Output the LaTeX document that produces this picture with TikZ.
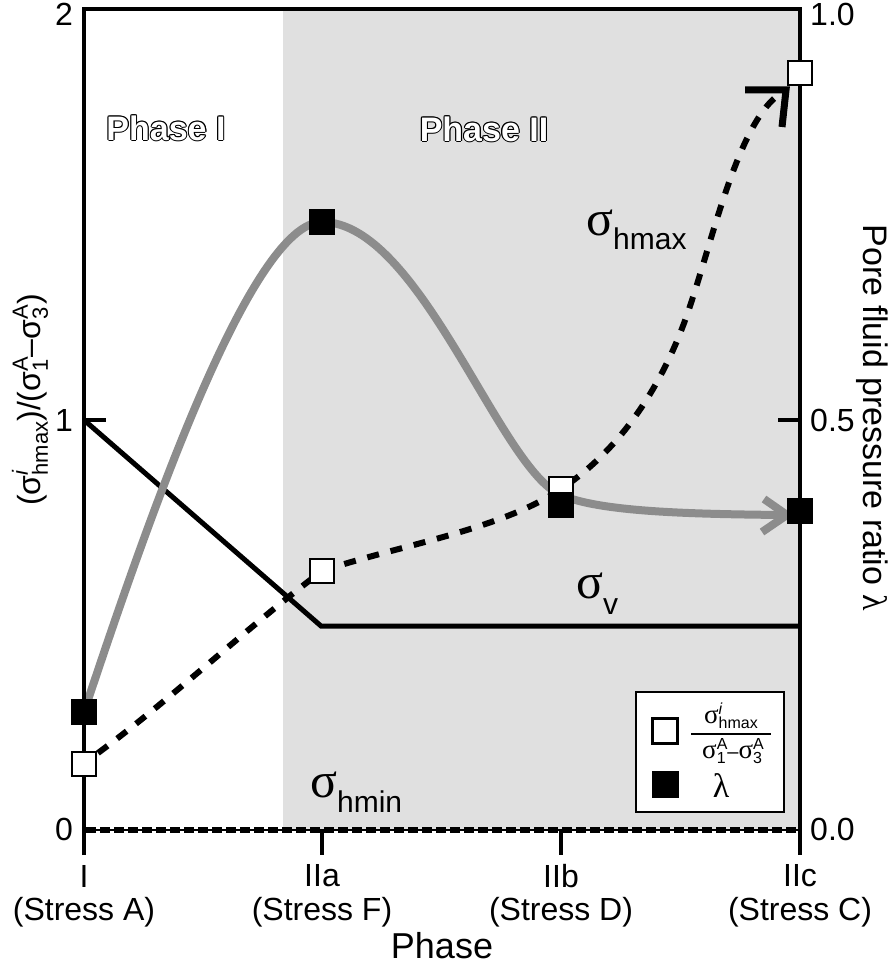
\documentclass[tikz,border=0pt]{standalone}
\usepackage{fontspec}
\setmainfont{Liberation Sans}
\newfontfamily\gkserif{Liberation Serif}
\usetikzlibrary{calc}
\definecolor{phasegray}{gray}{0.88}
\definecolor{lamgray}{gray}{0.55}
\newcommand\fs[1]{\fontsize{#1}{#1}\selectfont}
% #1 size, #2 raise, #3 lower, #4 sup, #5 sub
\newcommand\supsub[5]{{\fs{#1}\setbox0\hbox{#4}\setbox2\hbox{#5}%
 \ifdim\wd0>\wd2 \dimen0=\wd0 \else \dimen0=\wd2 \fi
 \hbox to\dimen0{\rlap{\raise#2\box0}\lower#3\box2\hss}}}
\tikzset{
  ticklab/.style={font=\fs{32}, inner sep=0},
  phasetxt/.style={font=\fs{34}\bfseries, inner sep=0},
  opensq/.style={draw=black, fill=white, line width=2.5pt, minimum size=24pt, inner sep=0, rectangle},
  fillsq/.style={draw=black, fill=black, line width=1pt, minimum size=25pt, inner sep=0, rectangle},
  lamcurve/.style={lamgray, line width=8pt},
  hcurve/.style={black, line width=6pt, dash pattern=on 12pt off 12pt},
  axisline/.style={line width=4.5pt, line cap=butt},
  siglab/.style={anchor=base west, inner sep=0}
}
\begin{document}
\begin{tikzpicture}[x=1pt,y=-1pt]
\useasboundingbox (0,0) rectangle (894,965);
% phase II shading
\fill[phasegray] (283,9) rectangle (800,830);

% data coordinates
\coordinate (lamI) at (84,712);
\coordinate (lamIIa) at (322,222);
\coordinate (lamIIb) at (561,505);
\coordinate (lamIIc) at (800,511);
\coordinate (hI) at (84,764);
\coordinate (hIIa) at (322,571);
\coordinate (hIIb) at (561,489);
\coordinate (hIIc) at (800,73);
\coordinate (vA) at (84,420);
\coordinate (vF) at (321,626);
\coordinate (vC) at (800,626);

% sigma_v line
\draw[line width=5pt, line join=miter] (vA) -- (vF) -- (vC);

% sigma_hmin line at 0
\draw[line width=2pt] (84,830) -- (800,830);
\draw[line width=6pt, dash pattern=on 10pt off 4pt] (86,830) -- (800,830);

% lambda curve
\draw[lamcurve] (lamI) .. controls (144,532) and (250,222) .. (lamIIa)
  .. controls (420,222) and (500,470) .. (561,495)
  .. controls (600,512) and (690,514) .. (782,515);
\draw[lamgray, line width=8pt, line cap=butt, line join=miter] (764,499) -- (787,515) -- (762,532);

% sigma_hmax curve
\draw[hcurve] (98,753) .. controls (170,700) and (250,625) .. (hIIa)
  .. controls (400,545) and (500,530) .. (hIIb)
  .. controls (620,450) and (665,385) .. (692,300)
  .. controls (715,230) and (740,120) .. (781,93);
\draw[line width=7pt, line join=miter, line cap=butt] (745,90) -- (786,90) -- (782,127);

% frame
\draw[axisline] (84,855) -- (84,9) -- (800,9) -- (800,855);
\draw[line width=4pt] (84,420) -- (106,420);
\draw[line width=4pt] (800,420) -- (778,420);
\draw[line width=4pt] (322,830) -- (322,855);
\draw[line width=4pt] (561,830) -- (561,855);

% markers
\node[opensq] (mhI) at (hI) {};
\node[opensq] (mhIIa) at (hIIa) {};
\node[opensq] (mhIIb) at (hIIb) {};
\node[opensq] (mhIIc) at (hIIc) {};
\node[fillsq] (mlI) at (lamI) {};
\node[fillsq] (mlIIa) at (lamIIa) {};
\node[fillsq] (mlIIb) at (lamIIb) {};
\node[fillsq] (mlIIc) at (lamIIc) {};

% phase labels (outlined)
\foreach \a [count=\k] in {0,45,...,315} {
  \node[phasetxt, text=black] (pIo\k) at ($(166,128)+(\a:1.1pt)$) {Phase I};
  \node[phasetxt, text=black] (pIIo\k) at ($(484,129)+(\a:1.1pt)$) {Phase II};
}
\node[phasetxt, text=white] (phI) at (166,128) {Phase I};
\node[phasetxt, text=white] (phII) at (484,129) {Phase II};

% sigma labels
\node[siglab] (shmax) at (586,236) {{\gkserif\fs{50}σ}\lower14pt\hbox{\fs{30}hmax}};
\node[siglab] (sv) at (576,598) {{\gkserif\fs{50}σ}\lower16pt\hbox{\fs{30}v}};
\node[siglab] (shmin) at (310,797) {{\gkserif\fs{50}σ}\lower15pt\hbox{\fs{30}hmin}};

% legend
\node[draw, line width=2pt, fill=white, minimum width=148pt, minimum height=120pt, inner sep=0] (leg) at (710,752) {};
\node[opensq, minimum size=25pt] (legopen) at (665,731) {};
\node[fillsq, minimum size=26pt] (legfill) at (665,784) {};
\node[inner sep=0, anchor=base] (legnum) at (731,723) {{\gkserif\fs{27}σ}\supsub{16}{9pt}{5pt}{\itshape i}{hmax}};
\draw[line width=1.5pt] (691,734) -- (771,734);
\node[inner sep=0, anchor=base] (legden) at (733,758) {{\gkserif\fs{27}σ}\supsub{16}{9pt}{5pt}{A}{1}{\fs{20}–}{\gkserif\fs{27}σ}\supsub{16}{9pt}{5pt}{A}{3}};
\node[inner sep=0] (leglam) at (721,786) {\gkserif\fs{34}λ};

% tick labels
\node[ticklab, anchor=east] (y2) at (73,14) {2};
\node[ticklab, anchor=east] (y1) at (73,420) {1};
\node[ticklab, anchor=east] (y0) at (73,829) {0};
\node[ticklab, anchor=west] (r10) at (810,14) {1.0};
\node[ticklab, anchor=west] (r05) at (810,420) {0.5};
\node[ticklab, anchor=west] (r00) at (810,829) {0.0};

\node[ticklab] (xI) at (84,876) {I};
\node[ticklab] (xIIa) at (322,876) {IIa};
\node[ticklab] (xIIb) at (561,876) {IIb};
\node[ticklab] (xIIc) at (800,876) {IIc};
\node[ticklab] (sA) at (84,912) {(Stress A)};
\node[ticklab] (sF) at (322,912) {(Stress F)};
\node[ticklab] (sD) at (561,912) {(Stress D)};
\node[ticklab] (sC) at (800,912) {(Stress C)};
\node[inner sep=0, font=\fs{36}] (xlab) at (442,946) {Phase};

% axis titles
\node[inner sep=0, font=\fs{34}, rotate=-90] (ylabR) at (872,418) {Pore fluid pressure ratio {\gkserif λ}};
\node[inner sep=0, font=\fs{32}, rotate=90] (ylabL) at (30,400) {(σ\supsub{22}{13pt}{7pt}{\itshape i}{hmax})/(σ\supsub{22}{13pt}{7pt}{A}{1}–σ\supsub{22}{13pt}{7pt}{A}{3})};
\end{tikzpicture}
\end{document}
